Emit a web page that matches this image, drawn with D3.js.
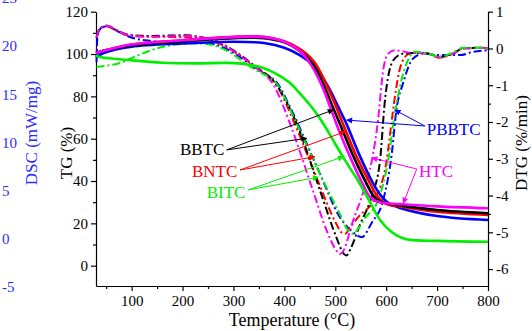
<!DOCTYPE html>
<html>
<head>
<meta charset="utf-8">
<script src="https://cdn.jsdelivr.net/npm/d3@7/dist/d3.min.js"></script>
<style>
  body { margin: 0; background: #fff; }
  svg text { font-family: "Liberation Serif", "Times New Roman", serif; }
</style>
</head>
<body>
<div id="graph"></div>
<script>
// ---- data ----
const tempTicks = [100, 200, 300, 400, 500, 600, 700, 800];
const tempMinor = [50, 150, 250, 350, 450, 550, 650, 750];
const tgTicks = [0, 20, 40, 60, 80, 100, 120];
const tgMinor = [10, 30, 50, 70, 90, 110];
const dtgTicks = [-6, -5, -4, -3, -2, -1, 0, 1];
const dtgMinor = [-5.5, -4.5, -3.5, -2.5, -1.5, -0.5, 0.5];
const dscTicks = [-5, 0, 5, 10, 15, 20, 25];

const samples = ["PBBTC", "BNTC", "BBTC", "HTC", "BITC"];

// TG (%) vs temperature (°C)
const tgBBTC = [[30,100.5],[45,101.5],[100,104],[200,106],[300,107.5],[360,107.5],[400,105.5],[430,101.5],[455,95.5],[476,86],[495,75],[510,66.5],[535,52],[561,39],[578,32],[595,29.8],[627,28.5],[700,26.3],[800,24.8]];
const tgHTC = [[30,100.5],[45,101.5],[100,104.5],[200,106.5],[300,108],[360,108],[400,105.8],[430,101.5],[452,95],[472,86],[490,75],[503,66.5],[528,52],[553,39],[570,32],[588,29.8],[627,29.1],[700,28],[800,27.1]];
const tgBNTC = [[30,100.5],[45,101.5],[100,104.5],[200,106.5],[300,108.2],[360,108.2],[400,106],[430,102.5],[458,96.5],[481,86.5],[500,76],[516,66.5],[541,52],[568,39],[585,32],[602,29],[627,28],[700,25.5],[800,24]];
const tgPBBTC = [[30,98.5],[45,100.5],[100,103.5],[200,105],[300,105.8],[360,105.2],[400,103],[430,99.5],[460,94],[485,85],[506,75],[522,67],[548,52],[574,39],[590,33],[605,29.5],[627,27.3],[700,23.5],[800,21.6]];
const tgBITC = [[30,99.5],[35,98.7],[94,97.2],[160,95.9],[226,95.6],[291,95.8],[324,95.2],[357,93.5],[385,90.5],[410,86.5],[430,81.5],[455,74.5],[476,67.3],[500,57.5],[520,49.5],[545,40],[565,31.5],[588,21.6],[610,16],[630,13.2],[647,12.2],[700,11.7],[800,11.3]];

// DTG (%/min) vs temperature (°C)
const dtgHTC = [[31,0.3],[38,0.55],[52,0.62],[70,0.5],[95,0.36],[140,0.32],[206,0.34],[246,0.28],[266,0.2],[305,-0.12],[344,-0.52],[379,-1.0],[411,-2.04],[456,-3.86],[483,-4.95],[500,-5.45],[509,-5.59],[518,-5.45],[532,-4.81],[556,-3.86],[572,-3.04],[584,-1.95],[594,-0.6],[604,-0.14],[617,-0.05],[650,-0.12],[680,-0.13],[705,-0.23],[730,-0.15],[751,0],[788,0.02],[800,-0.01]];
const dtgBBTC = [[31,0.3],[38,0.55],[52,0.62],[70,0.5],[95,0.37],[140,0.34],[206,0.36],[246,0.28],[266,0.2],[305,-0.1],[344,-0.5],[385,-1.0],[424,-2.04],[470,-3.86],[502,-5.13],[515,-5.55],[522,-5.63],[530,-5.45],[548,-4.81],[572,-4.0],[588,-3.04],[597,-1.49],[614,-0.32],[633,-0.14],[650,-0.12],[680,-0.13],[705,-0.23],[730,-0.15],[751,0],[788,0.02],[800,-0.01]];
const dtgBNTC = [[31,0.3],[38,0.53],[52,0.6],[70,0.48],[95,0.35],[140,0.32],[206,0.31],[246,0.25],[266,0.17],[305,-0.12],[344,-0.52],[385,-1.0],[420,-2.04],[463,-3.5],[502,-4.77],[512,-5.0],[519,-5.04],[530,-4.85],[548,-4.54],[578,-4.08],[601,-3.04],[611,-1.95],[620,-1.05],[630,-0.41],[646,-0.14],[660,-0.12],[680,-0.14],[705,-0.25],[730,-0.15],[751,0],[788,0.02],[800,-0.01]];
const dtgBITC = [[31,-0.5],[50,-0.47],[74,-0.41],[110,-0.2],[160,0.04],[226,0.14],[259,0.09],[291,-0.09],[324,-0.41],[344,-0.59],[387,-1.0],[424,-2.04],[476,-3.59],[509,-4.5],[525,-4.95],[535,-5.04],[545,-4.9],[558,-4.62],[584,-4.13],[604,-3.04],[617,-1.77],[630,-0.86],[646,-0.23],[656,-0.09],[680,-0.13],[705,-0.22],[730,-0.12],[751,0.02],[788,0.02],[800,-0.01]];
const dtgPBBTC = [[31,-0.37],[33,0.35],[42,0.58],[52,0.6],[75,0.45],[95,0.32],[140,0.2],[206,0.14],[246,0.15],[266,0.1],[305,-0.16],[344,-0.55],[389,-1.0],[411,-1.59],[470,-3.41],[509,-4.59],[535,-5.0],[552,-5.13],[572,-4.73],[594,-4.13],[611,-2.86],[620,-1.68],[633,-0.95],[653,-0.27],[673,-0.14],[700,-0.18],[745,-0.18],[771,-0.09],[800,-0.05]];

// label: text anchor (T, TG), line start (T, TG), targets (T, TG)
const labelNames = ["BBTC", "BNTC", "BITC", "PBBTC", "HTC"];
const labelAt = [[195, 52.3], [218.6, 41.9], [247.5, 32], [679.6, 61.7], [664.5, 41.9]];
const labelFrom = [[286.7, 54.7], [312.9, 45.2], [329.2, 35.8], [676, 66], [660, 45.7]];
const labelTo = [
  [[496, 73.6], [443.9, 60.2]],
  [[519, 63.3], [460, 51.5]],
  [[515.8, 51.5], [466.7, 41.8]],
  [[522.5, 68.8], [617.3, 73.5]],
  [[572, 50.9], [633.6, 29.5]]
];

// ---- styling ----
const colors = { BBTC: "#000000", BNTC: "#ff0000", BITC: "#00ee00", PBBTC: "#0000ff", HTC: "#ff00ff" };
const tgData = { BBTC: tgBBTC, BNTC: tgBNTC, BITC: tgBITC, PBBTC: tgPBBTC, HTC: tgHTC };
const dtgData = { BBTC: dtgBBTC, BNTC: dtgBNTC, BITC: dtgBITC, PBBTC: dtgPBBTC, HTC: dtgHTC };

let width = 532;
let height = 331;
let plotLeft = 96, plotRight = 488, plotTop = 11.7, plotBottom = 286;

let svg = d3.select('#graph')
  .append('svg')
  .attr('width', width)
  .attr('height', height);

let x = d3.scaleLinear().domain([30, 800]).range([plotLeft, plotRight]);
let yTG = d3.scaleLinear().domain([-9.6, 120]).range([plotBottom, plotTop]);
let yDTG = d3.scaleLinear().domain([-6.46, 1]).range([plotBottom, plotTop]);
let yDSC = d3.scaleLinear().domain([-5, 25]).range([286.7, -1.9]);

// arrow markers
let defs = svg.append('defs');
labelNames.forEach(n => {
  defs.append('marker')
    .attr('id', 'arr-' + n)
    .attr('viewBox', '0 0 10 10')
    .attr('refX', 9).attr('refY', 5)
    .attr('markerWidth', 7).attr('markerHeight', 6)
    .attr('markerUnits', 'userSpaceOnUse')
    .attr('orient', 'auto')
    .append('path')
    .attr('d', 'M0,0L10,5L0,10z')
    .attr('fill', colors[n]);
});

// axes
function styleAxis(g) {
  g.selectAll('path, line').attr('stroke', '#000').attr('stroke-width', 1.2);
  g.selectAll('text').attr('font-size', 15).attr('fill', '#000')
    .style('font-family', '"Liberation Serif", "Times New Roman", serif');
}
let fmt = d => String(d);

svg.append('g').attr('transform', `translate(0,${plotBottom})`)
  .call(d3.axisBottom(x).tickValues(tempTicks).tickSize(5).tickSizeOuter(0).tickPadding(4).tickFormat(fmt))
  .call(styleAxis);
svg.append('g').attr('transform', `translate(0,${plotBottom})`)
  .call(d3.axisBottom(x).tickValues(tempMinor).tickSize(3).tickFormat(''))
  .call(g => g.select('.domain').remove())
  .call(styleAxis);

svg.append('g').attr('transform', `translate(${plotLeft},0)`)
  .call(d3.axisLeft(yTG).tickValues(tgTicks).tickSize(5).tickSizeOuter(0).tickPadding(3).tickFormat(fmt))
  .call(styleAxis);
svg.append('g').attr('transform', `translate(${plotLeft},0)`)
  .call(d3.axisLeft(yTG).tickValues(tgMinor).tickSize(3).tickFormat(''))
  .call(g => g.select('.domain').remove())
  .call(styleAxis);

svg.append('g').attr('transform', `translate(${plotRight},0)`)
  .call(d3.axisRight(yDTG).tickValues(dtgTicks).tickSize(5).tickSizeOuter(0).tickPadding(3).tickFormat(fmt))
  .call(styleAxis);
svg.append('g').attr('transform', `translate(${plotRight},0)`)
  .call(d3.axisRight(yDTG).tickValues(dtgMinor).tickSize(3).tickFormat(''))
  .call(g => g.select('.domain').remove())
  .call(styleAxis);

// DSC labels (no axis line)
svg.append('g').selectAll('text')
  .data(dscTicks)
  .enter()
  .append('text')
  .attr('x', 2)
  .attr('y', d => yDSC(d))
  .attr('dy', '0.35em')
  .attr('font-size', 15)
  .attr('fill', '#2a2aff')
  .text(d => d);

// axis titles
svg.append('text')
  .attr('x', (plotLeft + plotRight) / 2).attr('y', 326)
  .attr('text-anchor', 'middle').attr('font-size', 18)
  .text('Temperature (°C)');
svg.append('text')
  .attr('transform', 'translate(72,153) rotate(-90)')
  .attr('text-anchor', 'middle').attr('font-size', 17)
  .text('TG (%)');
svg.append('text')
  .attr('transform', 'translate(37,133) rotate(-90)')
  .attr('text-anchor', 'middle').attr('font-size', 17)
  .attr('fill', '#2a2aff')
  .text('DSC (mW/mg)');
svg.append('text')
  .attr('transform', 'translate(527,143) rotate(-90)')
  .attr('text-anchor', 'middle').attr('font-size', 17)
  .text('DTG (%/min)');

// curves
let lineTG = d3.line().x(d => x(d[0])).y(d => yTG(d[1])).curve(d3.curveCatmullRom.alpha(0.5));
let lineDTG = d3.line().x(d => x(d[0])).y(d => yDTG(d[1])).curve(d3.curveMonotoneX);

svg.append('g').selectAll('path')
  .data(samples)
  .enter()
  .append('path')
  .attr('d', n => lineDTG(dtgData[n]))
  .attr('fill', 'none')
  .attr('stroke', n => colors[n])
  .attr('stroke-width', 2)
  .attr('stroke-dasharray', '8,3,2,3');

svg.append('g').selectAll('path')
  .data(samples)
  .enter()
  .append('path')
  .attr('d', n => lineTG(tgData[n]))
  .attr('fill', 'none')
  .attr('stroke', n => colors[n])
  .attr('stroke-width', 2.6);

// annotations
labelNames.forEach((n, i) => {
  let g = svg.append('g');
  labelTo[i].forEach(t => {
    g.append('line')
      .attr('x1', x(labelFrom[i][0])).attr('y1', yTG(labelFrom[i][1]))
      .attr('x2', x(t[0])).attr('y2', yTG(t[1]))
      .attr('stroke', colors[n]).attr('stroke-width', 1)
      .attr('marker-end', `url(#arr-${n})`);
  });
  g.append('text')
    .attr('x', x(labelAt[i][0])).attr('y', yTG(labelAt[i][1]))
    .attr('font-size', 17)
    .attr('fill', colors[n])
    .text(n);
});
</script>
</body>
</html>
